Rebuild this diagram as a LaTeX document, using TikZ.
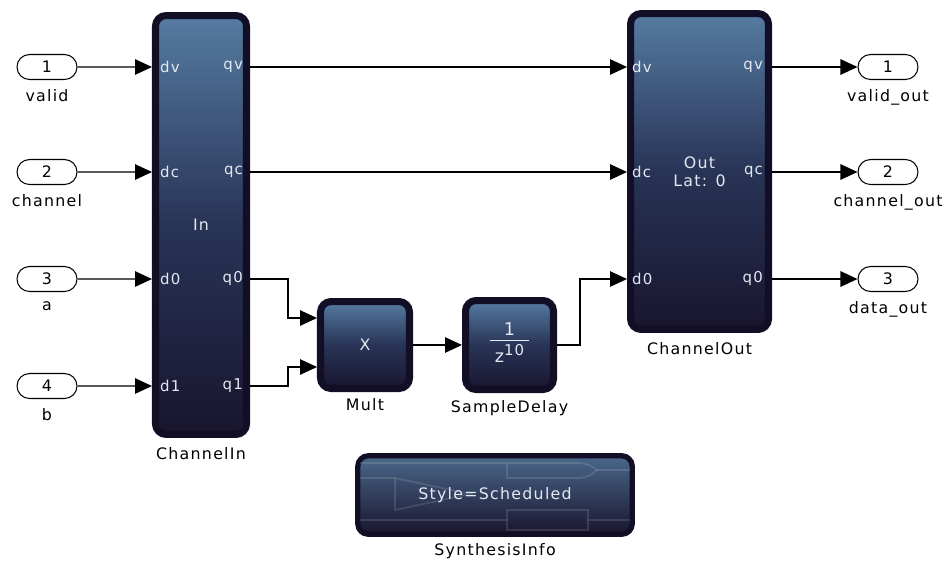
\documentclass[tikz,border=0pt]{standalone}
\usepackage{fontspec}
\setmainfont[LetterSpace=8]{DejaVu Sans}
\usetikzlibrary{arrows.meta,positioning,shapes.misc}

\definecolor{blkedge}{HTML}{120E26}
\definecolor{blktop}{HTML}{567BA2}
\definecolor{blkmid}{HTML}{283456}
\definecolor{blkbot}{HTML}{19152F}
\definecolor{pintext}{HTML}{E4E8F0}

\begin{document}
\begin{tikzpicture}[
  x=0.02cm, y=-0.02cm,
  font=\fontsize{9}{10}\selectfont,
  port/.style={draw, rounded rectangle, fill=white, line width=0.6pt,
    minimum width=1.2cm, minimum height=0.5cm, inner sep=0pt},
  plbl/.style={inner sep=1pt},
  blk/.style={draw=blkedge, line width=4pt, rounded corners=6pt,
    top color=blktop, bottom color=blkbot, middle color=blkmid,
    text=pintext, align=center, inner sep=0pt},
  pin/.style={text=pintext, inner sep=1pt, font=\fontsize{8.5}{10}\selectfont},
  arr/.style={-{Triangle[length=3.4mm, width=3.1mm]}, line width=0.6pt},
  wire/.style={line width=0.6pt},
  deco/.style={draw=white, draw opacity=0.12, line width=1pt}
]
\useasboundingbox (0,0) rectangle (946,562);

% ── Inports ──────────────────────────────────────────────────────────────
\node[port] (p1) at (47,67)  {1};
\node[port] (p2) at (47,172) {2};
\node[port] (p3) at (47,279) {3};
\node[port] (p4) at (47,386) {4};
\node[plbl, below=1.5mm of p1] (lp1) {valid};
\node[plbl, below=1.5mm of p2] (lp2) {channel};
\node[plbl, below=1.5mm of p3] (lp3) {a};
\node[plbl, below=1.5mm of p4] (lp4) {b};

% ── ChannelIn ────────────────────────────────────────────────────────────
\node[blk, minimum width=1.82cm, minimum height=8.38cm] (cin) at (201,225) {In};
\node[plbl, below=1.5mm of cin] (lcin) {ChannelIn};
\foreach \p/\d/\q in {p1/dv/qv, p2/dc/qc, p3/d0/q0, p4/d1/q1} {
  \coordinate (cin-\d) at (cin.west |- \p);
  \coordinate (cin-\q) at (cin.east |- \p);
  \node[pin, right=1.2mm of cin-\d] {\d};
  \node[pin, left=1mm of cin-\q] {\q};
  \draw[arr] (\p) -- (cin-\d);
}

% ── Mult and SampleDelay ─────────────────────────────────────────────────
\node[blk, minimum width=1.78cm, minimum height=1.74cm] (mult) at (365,345) {X};
\node[plbl, below=0.9mm of mult] (lmult) {Mult};
\coordinate (mult-a) at ([yshift=0.54cm]mult.west);
\coordinate (mult-b) at ([yshift=-0.44cm]mult.west);

\node[blk, minimum width=1.76cm, minimum height=1.78cm] (delay) at (509.5,345)
  {\fontsize{10}{11}\selectfont\setlength\arrayrulewidth{0.7pt}%
   \begin{tabular}{@{\hspace{3pt}}c@{\hspace{3pt}}}1\\[-1pt]\hline
   \rule{0pt}{12pt}z{\fontsize{8.5}{9}\selectfont\raisebox{3.5pt}{10}}\end{tabular}};
\node[plbl, below=1mm of delay] (ldelay) {SampleDelay};

\draw[arr] (cin-q0) -- ++(38,0) |- (mult-a);
\draw[arr] (cin-q1) -- ++(38,0) |- (mult-b);
\draw[arr] (mult.east) -- (delay.west);

% ── ChannelOut ───────────────────────────────────────────────────────────
\node[blk, minimum width=2.76cm, minimum height=6.32cm] (cout) at (699.5,171.5)
  {Out\\ Lat: 0};
\node[plbl, below=1.5mm of cout] (lcout) {ChannelOut};

% ── Outports ─────────────────────────────────────────────────────────────
\node[port] (o1) at (888,67)  {1};
\node[port] (o2) at (888,172) {2};
\node[port] (o3) at (888,279) {3};
\node[plbl, below=1.5mm of o1] (lo1) {valid\_out};
\node[plbl, below=1.5mm of o2] (lo2) {channel\_out};
\node[plbl, below=1.5mm of o3] (lo3) {data\_out};

\foreach \o/\d/\q in {o1/dv/qv, o2/dc/qc, o3/d0/q0} {
  \coordinate (cout-\d) at (cout.west |- \o);
  \coordinate (cout-\q) at (cout.east |- \o);
  \node[pin, right=0.6mm of cout-\d] {\d};
  \node[pin, left=1.4mm of cout-\q] {\q};
  \draw[arr] (cout-\q) -- (\o);
}

\draw[arr] (cin-qv) -- (cout-dv);
\draw[arr] (cin-qc) -- (cout-dc);
\draw[arr] (delay.east) -- ++(23,0) |- (cout-d0);

% ── SynthesisInfo ────────────────────────────────────────────────────────
\node[blk, line width=3pt, top color=blktop!85!black, minimum width=5.49cm,
  minimum height=1.57cm] (synth) at (495,495) {};
\begin{scope}
  \clip[rounded corners=6pt] (synth.south west) rectangle (synth.north east);
  \draw[deco] (360,463) -- (507,463) (597,470) -- (630,470)
              (360,478) -- (395,478) (360,520) -- (507,520) (588,520) -- (630,520);
  \draw[deco] (507,463) -- (580,463) .. controls (590,465) .. (597,470)
              .. controls (590,476) .. (580,478) -- (507,478) -- cycle;
  \draw[deco] (395,478) -- (470,494) -- (395,510) -- cycle;
  \draw[deco] (507,510) rectangle (588,530);
\end{scope}
\node[text=pintext] (synthtxt) at (synth) {Style=Scheduled};
\node[plbl, below=0.8mm of synth] (lsynth) {SynthesisInfo};

\end{tikzpicture}
\end{document}
